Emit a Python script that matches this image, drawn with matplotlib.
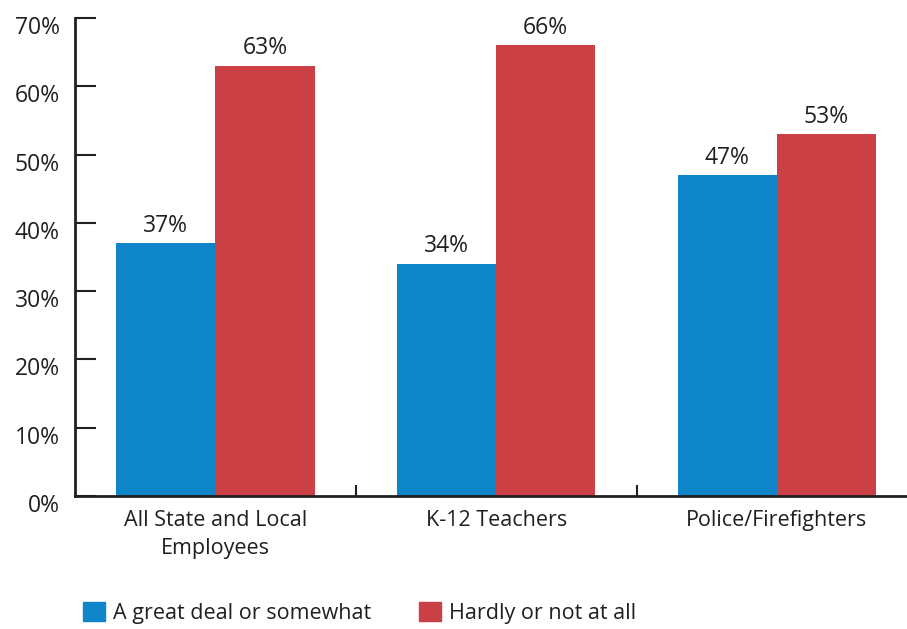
import numpy as np
import matplotlib.pyplot as plt
import matplotlib.transforms as mtrans
from matplotlib.patches import Patch

categories = ['All State and Local\nEmployees', 'K-12 Teachers', 'Police/Firefighters']
great_deal = [37, 34, 47]
hardly = [63, 66, 53]
series_names = ['A great deal or somewhat', 'Hardly or not at all']
colors = ['#0D85C8', '#CA4045']

plt.rcParams['font.family'] = ['Open Sans', 'DejaVu Sans']
txt = '#231F20'

fig = plt.figure(figsize=(9.07, 6.29), dpi=100)
ax = fig.add_axes([75/907, 1-496/629, 1-75/907, 478/629])

x = np.arange(len(categories))
w = 0.353
b1 = ax.bar(x - w/2, great_deal, w, color=colors[0])
b2 = ax.bar(x + w/2, hardly, w, color=colors[1])

for bars, vals in [(b1, great_deal), (b2, hardly)]:
    for b, v in zip(bars, vals):
        ax.annotate(f'{v}%', (b.get_x() + b.get_width()/2, v), xytext=(0, 4),
                    textcoords='offset points', ha='center', va='bottom',
                    fontsize=16.5, color=txt)

ax.set_ylim(0, 70)
ax.set_xlim(-0.5, 2.463)
ax.set_yticks(range(0, 71, 10))
ax.set_yticklabels([f'{v}%' for v in range(0, 71, 10)], fontsize=16.5, color=txt)
ax.tick_params(axis='y', direction='in', length=15, width=1.5, pad=11, color=txt)
shift = mtrans.ScaledTranslation(0, -5/72, fig.dpi_scale_trans)
for lab in ax.get_yticklabels():
    lab.set_transform(lab.get_transform() + shift)

ax.set_xticks(x)
ax.set_xticklabels(categories, fontsize=15.5, color=txt, va='top', linespacing=1.45)
ax.tick_params(axis='x', which='major', length=0, pad=10)
ax.set_xticks([0.5, 1.5], minor=True)
ax.tick_params(axis='x', which='minor', direction='in', length=8, width=1.5, color=txt)

for s in ['top', 'right']:
    ax.spines[s].set_visible(False)
for s in ['left', 'bottom']:
    ax.spines[s].set_linewidth(2)
    ax.spines[s].set_color(txt)

handles = [Patch(color=c) for c in colors]
fig.legend(handles, series_names, loc='center left', bbox_to_anchor=(83/907, 1-613/629),
           ncol=2, frameon=False, fontsize=15.5, handlelength=1.02, handleheight=1.02,
           handletextpad=0.37, columnspacing=2.25, labelcolor=txt,
           borderpad=0, borderaxespad=0)

fig.savefig('out.png', dpi=100)
